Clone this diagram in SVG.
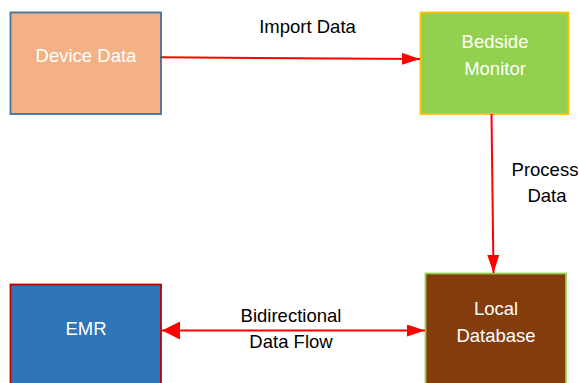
<svg xmlns="http://www.w3.org/2000/svg" width="579" height="383" viewBox="0 0 579 383">
  <style>
    .box { stroke-width: 1.8; }
    .box-label { font-family: "Liberation Sans", Arial, sans-serif; font-size: 18.5px; fill: #ffffff; text-anchor: middle; }
    .edge-label { font-family: "Liberation Sans", Arial, sans-serif; font-size: 18.5px; fill: #000000; text-anchor: middle; }
    .link { stroke: #ff0000; stroke-width: 2; fill: none; }
  </style>
  <defs>
    <marker id="head" viewBox="0 0 18 12" refX="18" refY="6" markerWidth="18" markerHeight="12" markerUnits="userSpaceOnUse" orient="auto-start-reverse">
      <path d="M0,0 L18,6 L0,12 Z" fill="#ff0000"/>
    </marker>
    <marker id="head-wide" viewBox="0 0 18 18" refX="18" refY="9" markerWidth="18" markerHeight="18" markerUnits="userSpaceOnUse" orient="auto-start-reverse">
      <path d="M0,0 L18,9 L0,18 Z" fill="#ff0000"/>
    </marker>
  </defs>

  <rect width="579" height="383" fill="#ffffff"/>

  <g id="device-data">
    <rect class="box" x="10.5" y="12.5" width="150.5" height="101.5" fill="#f4b183" stroke="#41719c"/>
    <text class="box-label" x="86" y="62">Device Data</text>
  </g>

  <g id="bedside-monitor">
    <rect class="box" x="420.5" y="12.5" width="148" height="101.5" fill="#92d050" stroke="#ffc000"/>
    <text class="box-label" x="495" y="48">Bedside</text>
    <text class="box-label" x="495" y="75">Monitor</text>
  </g>

  <g id="local-database">
    <rect class="box" x="425.5" y="273.5" width="140.5" height="115" fill="#843c0c" stroke="#92d050"/>
    <text class="box-label" x="496" y="315">Local</text>
    <text class="box-label" x="496" y="342">Database</text>
  </g>

  <g id="emr">
    <rect class="box" x="10.5" y="284.5" width="150.5" height="104" fill="#2e75b6" stroke="#c00000"/>
    <text class="box-label" x="86" y="335">EMR</text>
  </g>

  <g id="connectors">
    <line class="link" x1="161" y1="57.3" x2="420" y2="59" marker-end="url(#head)"/>
    <line class="link" x1="491.5" y1="114" x2="493.5" y2="273" marker-end="url(#head)"/>
    <line class="link" x1="162" y1="330.5" x2="425" y2="330.5" marker-start="url(#head-wide)" marker-end="url(#head)"/>
  </g>

  <g id="labels">
    <text class="edge-label" x="545" y="176">Process</text>
    <text class="edge-label" x="547" y="202">Data</text>
    <text class="edge-label" x="307.5" y="33">Import Data</text>
    <text class="edge-label" x="291" y="322">Bidirectional</text>
    <text class="edge-label" x="291" y="348">Data Flow</text>
  </g>
</svg>
